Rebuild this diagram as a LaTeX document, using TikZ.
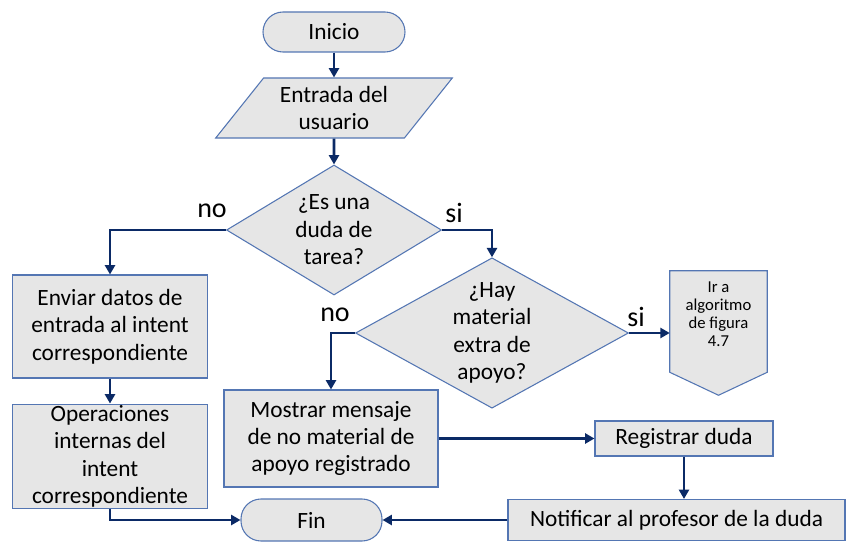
\documentclass[tikz,border=0pt]{standalone}
\usepackage{fontspec}
\setmainfont{Carlito}
\usepackage{tikz}
\usetikzlibrary{calc}
\usetikzlibrary{arrows.meta}
\usetikzlibrary{shapes.geometric}

\definecolor{flecha}{HTML}{0B2A66}
\definecolor{borde}{HTML}{5476B3}
\definecolor{relleno}{HTML}{E6E6E6}

\tikzset{
    caja/.style={draw=borde,fill=relleno,line width=0.8pt,inner sep=1pt,align=center,
        font=\fontsize{17.5}{20.6}\selectfont},
    terminal/.style={caja,rounded corners=15pt},
    entrada/.style={caja,trapezium,trapezium left angle=51,trapezium right angle=129,
        trapezium stretches=true},
    decision/.style={caja,diamond,inner sep=0pt,shape aspect=1.6},
    flecha/.style={draw=flecha,line width=2.1pt,-{Triangle[length=7pt,width=7.5pt]}},
    etiqueta/.style={font=\fontsize{21}{24}\selectfont},
    chico/.style={font=\fontsize{12.5}{13.4}\selectfont}
}

\begin{document}
\begin{tikzpicture}[x=0.75pt,y=-0.75pt]
        \useasboundingbox (0,0) rectangle (849,542);

        \node[terminal,minimum width=106.5pt,minimum height=30pt] (inicio) at (334,32) {Inicio};
        \node[entrada,minimum width=177.75pt,minimum height=45pt] (datos) at (334,108) {Entrada del\\usuario};
        \node[decision,minimum width=161.25pt,minimum height=97.5pt] (duda) at (334,230) {¿Es una\\duda de\\tarea?};
        \node[decision,minimum width=204.75pt,minimum height=108.75pt] (material) at (492,333) {¿Hay\\material\\extra de\\apoyo?};
        \node[caja,minimum width=146.25pt,minimum height=77.25pt] (enviar) at (110,326.5) {Enviar datos de\\entrada al intent\\correspondiente};
        \node[caja,minimum width=146.25pt,minimum height=77.25pt] (operaciones) at (110,456.5) {Operaciones\\internas del\\intent\\correspondiente};
        \node[caja,minimum width=160.5pt,minimum height=72.75pt] (mostrar) at (331,438.5) {Mostrar mensaje\\de no material de\\apoyo registrado};
        \node[caja,minimum width=133.5pt,minimum height=26.25pt] (registrar) at (684,438.5) {Registrar duda};
        \node[caja,minimum width=252.75pt,minimum height=30.75pt] (notificar) at (676.5,520) {Notificar al profesor de la duda};
        \node[terminal,minimum width=105.75pt,minimum height=31.5pt] (fin) at (311.5,520) {Fin};

        \node[align=center,inner sep=0pt,minimum width=72.75pt,minimum height=64.5pt] (irA) at (718.5,314) {};
        \draw[draw=borde,fill=relleno,line width=0.8pt] (irA.north west) -- (irA.north east)
            -- ($(irA.south east)+(0,15)$) -- ($(irA.south)+(0,38)$) -- ($(irA.south west)+(0,15)$) -- cycle;
        \node[chico,align=center,inner sep=0pt] (irAtexto) at (irA) {Ir a\\algoritmo\\de figura\\4.7};

        \draw[flecha] (inicio) -- (datos);
        \draw[flecha] (datos) -- (duda);
        \draw[flecha] (duda.west) -| (enviar.north);
        \draw[flecha] (duda.east) -| (material.north);
        \draw[flecha] (material.west) -| (mostrar.north);
        \draw[flecha] (material.east) -- (material.east -| irA.west);
        \draw[flecha] (enviar) -- (operaciones);
        \draw[flecha] (operaciones.south) |- (fin.west);
        \draw[flecha] (mostrar) -- (registrar);
        \draw[flecha] (registrar.south) -- (registrar.south |- notificar.north);
        \draw[flecha] (notificar) -- (fin);

        \node[etiqueta] (noDuda) at (212,211) {no};
        \node[etiqueta] (siDuda) at (454,213) {si};
        \node[etiqueta] (noMaterial) at (335,315) {no};
        \node[etiqueta] (siMaterial) at (636,317) {si};
    \end{tikzpicture}
\end{document}
